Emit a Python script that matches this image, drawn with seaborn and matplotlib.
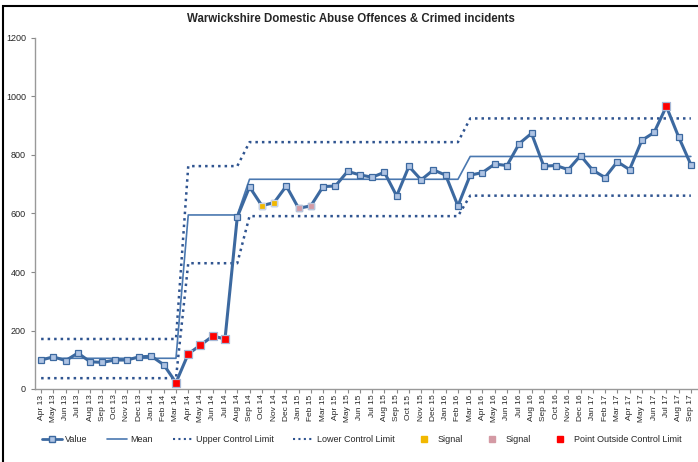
import numpy as np
import pandas as pd
import matplotlib
matplotlib.use("Agg")
import matplotlib.pyplot as plt
import seaborn as sns
from matplotlib.lines import Line2D
from matplotlib.patches import Rectangle

months = ["Apr 13", "May 13", "Jun 13", "Jul 13", "Aug 13", "Sep 13", "Oct 13", "Nov 13", "Dec 13",
          "Jan 14", "Feb 14", "Mar 14", "Apr 14", "May 14", "Jun 14", "Jul 14", "Aug 14", "Sep 14",
          "Oct 14", "Nov 14", "Dec 14", "Jan 15", "Feb 15", "Mar 15", "Apr 15", "May 15", "Jun 15",
          "Jul 15", "Aug 15", "Sep 15", "Oct 15", "Nov 15", "Dec 15", "Jan 16", "Feb 16", "Mar 16",
          "Apr 16", "May 16", "Jun 16", "Jul 16", "Aug 16", "Sep 16", "Oct 16", "Nov 16", "Dec 16",
          "Jan 17", "Feb 17", "Mar 17", "Apr 17", "May 17", "Jun 17", "Jul 17", "Aug 17", "Sep 17"]

value = [99, 110, 97, 123, 93, 91, 99, 99, 110, 112, 83, 22,
         120, 150, 181, 171, 588,
         691, 627, 637, 694, 618, 626, 692, 694, 744, 732, 724, 741, 660, 761, 715, 749, 731, 626,
         731, 740, 769, 764, 839, 874, 762, 764, 750, 798, 748, 723, 777, 750, 850, 877, 966, 862, 767]

# process limits per phase: (number of months, mean, upper, lower)
phases = [(12, 105, 171, 37), (5, 595, 762, 430), (18, 717, 844, 591), (19, 795, 925, 661)]
mean = [m for n, m, u, l in phases for _ in range(n)]
ucl = [u for n, m, u, l in phases for _ in range(n)]
lcl = [l for n, m, u, l in phases for _ in range(n)]

signal_yellow = ["Oct 14", "Nov 14"]
signal_pink = ["Jan 15", "Feb 15"]
outside = ["Mar 14", "Apr 14", "May 14", "Jun 14", "Jul 14", "Jul 17"]

df = pd.DataFrame({"month": months, "x": np.arange(len(months)), "value": value,
                   "mean": mean, "ucl": ucl, "lcl": lcl})

sns.set_style("white")
plt.rcParams["font.family"] = ["Liberation Sans", "DejaVu Sans"]

blue = "#3c69a0"
dotblue = "#2f5490"
fig = plt.figure(figsize=(6.98, 4.62), dpi=100)
ax = fig.add_axes([35 / 698, 73 / 462, 662 / 698, 351 / 462])

dot = (0, (1, 1.6))
sns.lineplot(data=df, x="x", y="ucl", ax=ax, color=dotblue, lw=1.8, linestyle=dot)
sns.lineplot(data=df, x="x", y="lcl", ax=ax, color=dotblue, lw=1.8, linestyle=dot)
sns.lineplot(data=df, x="x", y="mean", ax=ax, color="#4a78b0", lw=1.2)
sns.lineplot(data=df, x="x", y="value", ax=ax, color=blue, lw=2.2,
             marker="s", markersize=5, markerfacecolor="#aec3e3", markeredgecolor=blue,
             markeredgewidth=0.9)

for names, fc, ec, size in [(signal_yellow, "#f2b800", "#c9d3e6", 20),
                            (signal_pink, "#d49aa4", "#b8c3da", 20),
                            (outside, "#ff0000", "#a7b8d6", 38)]:
    sub = df[df["month"].isin(names)]
    sns.scatterplot(data=sub, x="x", y="value", ax=ax, marker="s", s=size,
                    color=fc, edgecolor=ec, linewidth=0.9, zorder=5)

ax.set_xlim(-0.5, len(months) - 0.5)
ax.set_ylim(0, 1200)
ax.set_yticks(range(0, 1201, 200))
ax.set_xticks(df["x"])
ax.set_xticklabels(months, rotation=90, fontsize=6)
ax.tick_params(axis="y", labelsize=6.5, length=3, direction="out", left=True, color="#888888")
ax.tick_params(axis="x", length=3, direction="out", bottom=True, color="#888888", pad=1)
ax.set_xlabel("")
ax.set_ylabel("")
for s in ["top", "right"]:
    ax.spines[s].set_visible(False)
for s in ["left", "bottom"]:
    ax.spines[s].set_color("#999999")
    ax.spines[s].set_linewidth(1.0)

fig.text(0.503, 0.958, "Warwickshire Domestic Abuse Offences & Crimed incidents",
         ha="center", va="center", fontsize=8.3, fontweight="bold")

handles = [
    Line2D([], [], color=blue, lw=2, marker="s", markersize=4, markerfacecolor="#aec3e3",
           markeredgecolor=blue),
    Line2D([], [], color="#4a78b0", lw=1.2),
    Line2D([], [], color=dotblue, lw=1.5, linestyle=dot),
    Line2D([], [], color=dotblue, lw=1.5, linestyle=dot),
    Line2D([], [], ls="", marker="s", markersize=4, markerfacecolor="#f2b800", markeredgecolor="#f2b800"),
    Line2D([], [], ls="", marker="s", markersize=4, markerfacecolor="#d49aa4", markeredgecolor="#d49aa4"),
    Line2D([], [], ls="", marker="s", markersize=4, markerfacecolor="#ff0000", markeredgecolor="#ff0000"),
]
labels = ["Value", "Mean", "Upper Control Limit", "Lower Control Limit", "Signal", "Signal",
          "Point Outside Control Limit"]
fig.legend(handles, labels, loc="center", bbox_to_anchor=(0.518, 0.048), ncol=7, frameon=False,
           fontsize=6.5, handlelength=2.2, handletextpad=0.4, columnspacing=2.15)

fig.patches.append(Rectangle((3 / 698, -0.05), 1.2, 1 - 6 / 462 + 0.05, transform=fig.transFigure,
                             fill=False, edgecolor="black", lw=1.5))

fig.savefig("out.png", dpi=100)
